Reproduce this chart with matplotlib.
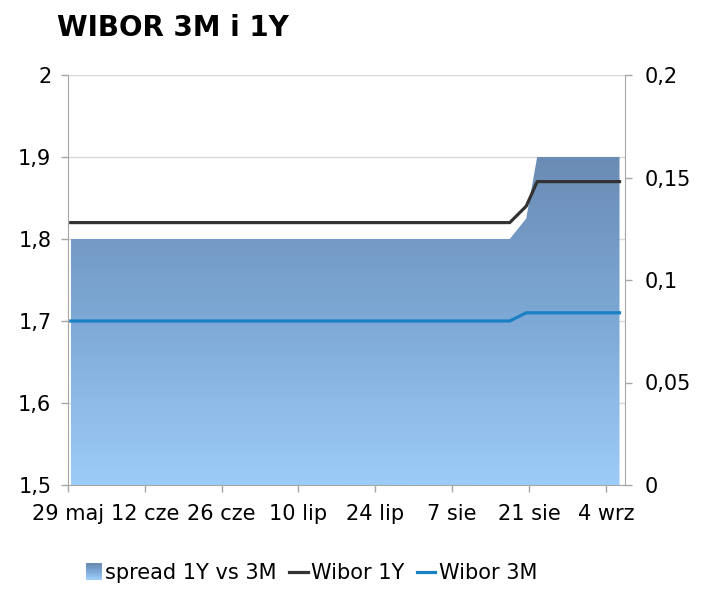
import numpy as np
import pandas as pd
import matplotlib
matplotlib.use("Agg")
import matplotlib.pyplot as plt
from matplotlib.colors import LinearSegmentedColormap
from matplotlib.patches import Patch, Rectangle
from matplotlib.lines import Line2D
from matplotlib.legend_handler import HandlerBase

# data (2018, values change only around 20 Aug)
dates = ["2018-05-29", "2018-08-17", "2018-08-20", "2018-08-22", "2018-09-06"]
wibor_1y = [1.82, 1.82, 1.84, 1.87, 1.87]
wibor_3m = [1.70, 1.70, 1.71, 1.71, 1.71]
spread = [0.12, 0.12, 0.13, 0.16, 0.16]

tick_dates = ["2018-05-29", "2018-06-12", "2018-06-26", "2018-07-10",
              "2018-07-24", "2018-08-07", "2018-08-21", "2018-09-04"]
tick_labels = ["29 maj", "12 cze", "26 cze", "10 lip", "24 lip", "7 sie", "21 sie", "4 wrz"]
left_ticks = [1.5, 1.6, 1.7, 1.8, 1.9, 2.0]
left_labels = ["1,5", "1,6", "1,7", "1,8", "1,9", "2"]
right_ticks = [0, 0.05, 0.1, 0.15, 0.2]
right_labels = ["0", "0,05", "0,1", "0,15", "0,2"]

plt.rcParams["font.family"] = ["DejaVu Sans"]
FS = 15
GRAY = "#a6a6a6"
cmap = LinearSegmentedColormap.from_list("sp", ["#9dccf8", "#7ea9d6", "#6a8cb4"])


class GradientHandler(HandlerBase):
    # legend key drawn as a small vertical gradient square
    def create_artists(self, legend, orig, xd, yd, w, h, fontsize, trans):
        n = 12
        side = h * 1.1
        x0 = xd + w - side
        arts = []
        for i in range(n):
            arts.append(Rectangle((x0, yd - 0.05 * h + i * side / n), side, side / n + 0.2,
                                  facecolor=cmap(i / (n - 1)), edgecolor="none",
                                  transform=trans))
        return arts


# points sit in the middle of each day slot
x = pd.to_datetime(dates) + pd.Timedelta(hours=12)
xt = pd.to_datetime(tick_dates)
x0 = pd.Timestamp("2018-05-29")
x1 = x0 + pd.Timedelta(days=101.5)

fig = plt.figure(figsize=(7.02, 5.91), dpi=100)
rect = [68 / 702, 1 - 485 / 591, (625 - 68) / 702, 410 / 591]
ax = fig.add_axes(rect)
ax2 = ax.twinx()
ax.set_zorder(1)
ax2.set_zorder(2)

# left scale: grid + ticks
ax.set_ylim(1.5, 2.0)
ax.set_yticks(left_ticks)
ax.set_yticklabels(left_labels, fontsize=FS)
ax.grid(axis="y", color="#d9d9d9", lw=1)
ax.set_xlim(x0, x1)
ax.set_xticks(xt)
ax.set_xticklabels(tick_labels, fontsize=FS)

# right scale: spread area with vertical gradient
poly = ax2.fill_between(x, 0, spread, color="none", lw=0)
grad = np.linspace(0, 1, 256).reshape(-1, 1)
img = ax2.imshow(grad, cmap=cmap, origin="lower", aspect="auto",
                 extent=[x[0], x[-1], 0, max(spread)], zorder=2)
img.set_clip_path(poly.get_paths()[0], transform=ax2.transData)
ax2.set_ylim(0, 0.2)
ax2.set_yticks(right_ticks)
ax2.set_yticklabels(right_labels, fontsize=FS)
ax2.set_xlim(x0, x1)

# lines on top, in left-scale coordinates
ax3 = fig.add_axes(rect, sharex=ax, sharey=ax)
ax3.set_zorder(3)
ax3.axis("off")
ax3.plot(x, wibor_1y, color="#333333", lw=2.3, solid_joinstyle="round")
ax3.plot(x, wibor_3m, color="#1a80c4", lw=2.3, solid_joinstyle="round")

for a in (ax, ax2):
    for s in a.spines.values():
        s.set_color(GRAY)
    a.spines["top"].set_visible(False)
    a.tick_params(color=GRAY, length=5, width=1)
ax.spines["right"].set_visible(False)
ax2.spines["left"].set_visible(False)
ax2.spines["bottom"].set_visible(False)
ax.tick_params(axis="y", pad=7)
ax.tick_params(axis="x", pad=9)
ax2.tick_params(axis="y", pad=9)

fig.text(57 / 702, 1 - 28 / 591, "WIBOR 3M i 1Y", fontsize=20, fontweight="bold",
         ha="left", va="center")

handles = [Patch(facecolor="#82acd9", edgecolor="none"),
           Line2D([], [], color="#333333", lw=2.3),
           Line2D([], [], color="#1a80c4", lw=2.3)]
fig.legend(handles, ["spread 1Y vs 3M", "Wibor 1Y", "Wibor 3M"], loc="center",
           bbox_to_anchor=(310 / 702, 1 - 573 / 591), ncol=3, frameon=False,
           fontsize=FS, handlelength=0.9, handletextpad=0.15, columnspacing=0.6,
           handler_map={Patch: GradientHandler()})

fig.savefig("out.png", dpi=100)
